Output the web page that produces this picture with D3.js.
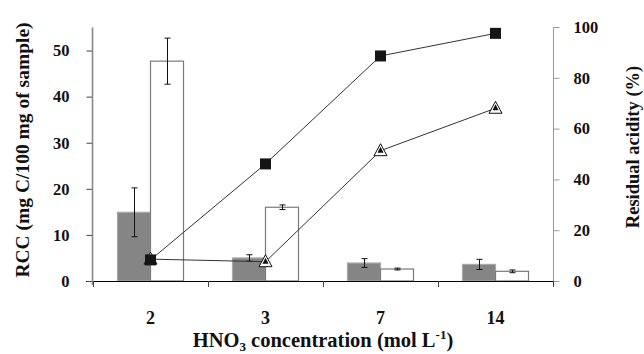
<!DOCTYPE html>
<html>
<head>
<meta charset="utf-8">
<script src="https://cdn.jsdelivr.net/npm/d3@7"></script>
<style>
  html, body { margin: 0; padding: 0; background: #fff; }
  svg text { font-family: "Liberation Serif", "Times New Roman", "DejaVu Serif", serif !important; font-weight: bold; }
</style>
</head>
<body>
<svg id="chart" width="644" height="354"></svg>
<script>
// ---- data ----
const categories = ["2", "3", "7", "14"];
const rccGrey = [14.9, 5.0, 3.9, 3.6];
const rccGreyErr = [5.3, 0.7, 0.95, 1.1];
const rccWhite = [47.7, 16.0, 2.6, 2.1];
const rccWhiteErr = [5.0, 0.5, 0.2, 0.3];
const acidSquares = [8.3, 46.1, 88.6, 97.5];
const acidTriangles = [8.6, 7.6, 51.3, 68.0];
const leftTicks = [0, 10, 20, 30, 40, 50];
const rightTicks = [0, 20, 40, 60, 80, 100];

const FONT = "'Liberation Serif', 'Times New Roman', 'DejaVu Serif', serif";
const svg = d3.select("#chart");

const x = d3.scaleBand().domain(categories).range([93, 553]).padding(0);
const xs = d3.scaleBand().domain(["grey", "white"]).range([0, x.bandwidth()])
  .paddingInner(0).paddingOuter(0.742);
const yL = d3.scaleLinear().domain([0, 55]).range([281, 27.5]);
const yR = d3.scaleLinear().domain([0, 100]).range([281, 27]);

// ---- bars ----
const barData = categories.map((c, i) => [
  { c, k: "grey", v: rccGrey[i], e: rccGreyErr[i] },
  { c, k: "white", v: rccWhite[i], e: rccWhiteErr[i] }
]).flat();

svg.append("g").selectAll("rect").data(barData).join("rect")
  .attr("x", d => x(d.c) + xs(d.k))
  .attr("y", d => yL(d.v))
  .attr("width", xs.bandwidth())
  .attr("height", d => yL(0) - yL(d.v))
  .attr("fill", d => d.k === "grey" ? "#858585" : "#fff")
  .attr("stroke", d => d.k === "grey" ? "#a8a8a8" : "#7a7a7a")
  .attr("stroke-width", 1.2);

// error bars
const eb = svg.append("g").attr("stroke", "#111").attr("stroke-width", 1);
barData.forEach(d => {
  const cx = Math.round(x(d.c) + xs(d.k) + xs.bandwidth() / 2) + 0.5;
  const y1 = yL(d.v + d.e), y2 = yL(d.v - d.e);
  eb.append("line").attr("x1", cx).attr("x2", cx).attr("y1", y1).attr("y2", y2);
  eb.append("line").attr("x1", cx - 3).attr("x2", cx + 3).attr("y1", y1).attr("y2", y1);
  eb.append("line").attr("x1", cx - 3).attr("x2", cx + 3).attr("y1", y2).attr("y2", y2);
});

// ---- axes ----
svg.append("line").attr("x1", 86).attr("x2", 553).attr("y1", yL(0) + 0.5).attr("y2", yL(0) + 0.5)
  .attr("stroke", "#000").attr("stroke-width", 1);

// left axis
const gL = svg.append("g").attr("transform", "translate(92.5,0)")
  .call(d3.axisLeft(yL).tickValues(leftTicks).tickSize(6).tickPadding(17).tickSizeOuter(0));
gL.attr("font-family", FONT);
gL.select(".domain").remove();
gL.selectAll(".tick line").attr("stroke", "#444");
gL.selectAll("text").attr("font-size", 16.5).attr("fill", "#111");
svg.append("line").attr("x1", 92.5).attr("x2", 92.5).attr("y1", yL(55)).attr("y2", 285)
  .attr("stroke", "#888").attr("stroke-width", 1.6);

// right axis
const gR = svg.append("g").attr("transform", "translate(553.5,0)")
  .call(d3.axisRight(yR).tickValues(rightTicks).tickSize(6).tickPadding(14).tickSizeOuter(0));
gR.attr("font-family", FONT);
gR.select(".domain").remove();
gR.selectAll(".tick line").attr("stroke", "#999");
gR.selectAll("text").attr("font-size", 16.5).attr("fill", "#111");
svg.append("line").attr("x1", 553.5).attr("x2", 553.5).attr("y1", yR(100)).attr("y2", 287)
  .attr("stroke", "#999").attr("stroke-width", 1);

// category boundary ticks
const bounds = categories.map(c => x(c)).concat([x(categories[categories.length - 1]) + x.bandwidth()]);
svg.append("g").selectAll("line").data(bounds).join("line")
  .attr("x1", d => Math.round(d) + 0.5).attr("x2", d => Math.round(d) + 0.5)
  .attr("y1", yL(0)).attr("y2", yL(0) + 6)
  .attr("stroke", "#444");

// category labels
const gX = svg.append("g").attr("transform", `translate(0,${yL(0)})`)
  .call(d3.axisBottom(x).tickSize(0).tickPadding(30));
gX.attr("font-family", FONT);
gX.select(".domain").remove();
gX.selectAll("text").attr("font-size", 18).attr("fill", "#111");

// ---- lines ----
const lineGen = d3.line().x((d, i) => x(categories[i]) + x.bandwidth() / 2).y(d => yR(d));
svg.append("path").datum(acidTriangles).attr("d", lineGen)
  .attr("fill", "none").attr("stroke", "#333").attr("stroke-width", 1);
svg.append("path").datum(acidSquares).attr("d", lineGen)
  .attr("fill", "none").attr("stroke", "#333").attr("stroke-width", 1);

// triangles
const tri = svg.append("g");
acidTriangles.forEach((v, i) => {
  const cx = x(categories[i]) + x.bandwidth() / 2, cy = yR(v);
  tri.append("path")
    .attr("d", `M${cx},${cy - 7}L${cx + 6.5},${cy + 5}L${cx - 6.5},${cy + 5}Z`)
    .attr("fill", "#fff").attr("stroke", "#111").attr("stroke-width", 1);
  tri.append("path")
    .attr("d", `M${cx},${cy - 4}L${cx + 3},${cy + 2}L${cx - 3},${cy + 2}Z`)
    .attr("fill", "#111");
});

// squares
svg.append("g").selectAll("rect").data(acidSquares).join("rect")
  .attr("x", (d, i) => x(categories[i]) + x.bandwidth() / 2 - 5.5)
  .attr("y", d => yR(d) - 5.5)
  .attr("width", 11).attr("height", 11)
  .attr("fill", "#151515");

// ---- titles ----
const xt = svg.append("text").attr("x", 323).attr("y", 347).attr("text-anchor", "middle")
  .attr("font-family", FONT).attr("font-size", 20.5).attr("fill", "#111");
xt.append("tspan").text("HNO");
xt.append("tspan").attr("font-size", 13).attr("dy", 4).text("3");
xt.append("tspan").attr("dy", -4).text(" concentration (mol L");
xt.append("tspan").attr("font-size", 13).attr("dy", -8).text("-1");
xt.append("tspan").attr("dy", 8).text(")");

svg.append("text").attr("transform", "translate(29,150) rotate(-90)").attr("text-anchor", "middle")
  .attr("font-family", FONT).attr("font-size", 19.5).attr("fill", "#111").text("RCC (mg C/100 mg of sample)");

svg.append("text").attr("transform", "translate(639,147) rotate(-90)").attr("text-anchor", "middle")
  .attr("font-family", FONT).attr("font-size", 18.5).attr("fill", "#111").text("Residual acidity (%)");
</script>
</body>
</html>
